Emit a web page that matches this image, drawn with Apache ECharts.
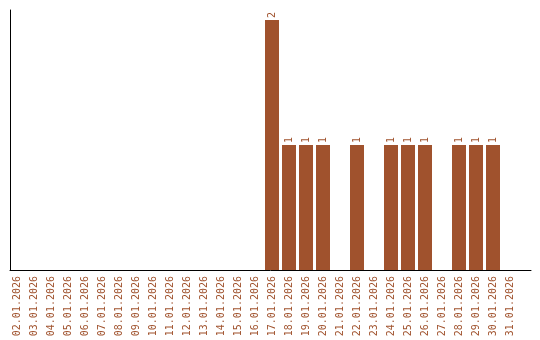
<!DOCTYPE html>
<html><head><meta charset="utf-8">
<script src="https://cdn.jsdelivr.net/npm/echarts@6/dist/echarts.min.js"></script>
<style>html,body{margin:0;padding:0;background:#fff}#c{width:540px;height:340px}</style>
</head><body><div id="c"></div>
<script>
var categories = ["02.01.2026","03.01.2026","04.01.2026","05.01.2026","06.01.2026","07.01.2026","08.01.2026","09.01.2026","10.01.2026","11.01.2026","12.01.2026","13.01.2026","14.01.2026","15.01.2026","16.01.2026","17.01.2026","18.01.2026","19.01.2026","20.01.2026","21.01.2026","22.01.2026","23.01.2026","24.01.2026","25.01.2026","26.01.2026","27.01.2026","28.01.2026","29.01.2026","30.01.2026","31.01.2026"];
var counts = [0,0,0,0,0,0,0,0,0,0,0,0,0,0,0,2,1,1,1,0,1,0,1,1,1,0,1,1,1,0];
var color = '#a0522d';
var font = '"DejaVu Sans Mono", monospace';
var chart = echarts.init(document.getElementById('c'), null, {renderer:'canvas'});
chart.setOption({
  animation:false,
  grid:[
    {left:8.5, width:510, top:10, bottom:70},
    {left:10, right:9, top:10, bottom:70}
  ],
  xAxis:[
    {type:'category', gridIndex:0, data:categories,
     axisLine:{show:false}, axisTick:{show:false},
     axisLabel:{rotate:90, interval:0, margin:6, color:color, fontSize:10, fontFamily:font}},
    {type:'value', gridIndex:1, min:0, max:1,
     axisLine:{show:true, lineStyle:{color:'#000', width:1}}, axisTick:{show:false},
     axisLabel:{show:false}, splitLine:{show:false}}
  ],
  yAxis:[
    {type:'value', gridIndex:0, min:0, max:2.08, show:false},
    {type:'value', gridIndex:1, min:0, max:1,
     axisLine:{show:true, lineStyle:{color:'#000', width:1}}, axisTick:{show:false},
     axisLabel:{show:false}, splitLine:{show:false}}
  ],
  series:[{
    type:'bar', xAxisIndex:0, yAxisIndex:0, barWidth:14,
    data:counts.map(function(v){return v===0?null:v;}),
    itemStyle:{color:color, borderRadius:0},
    label:{show:true, position:'top', rotate:90, align:'left', verticalAlign:'middle', distance:2,
      color:color, fontSize:10, fontFamily:font}
  }]
});
</script></body></html>
